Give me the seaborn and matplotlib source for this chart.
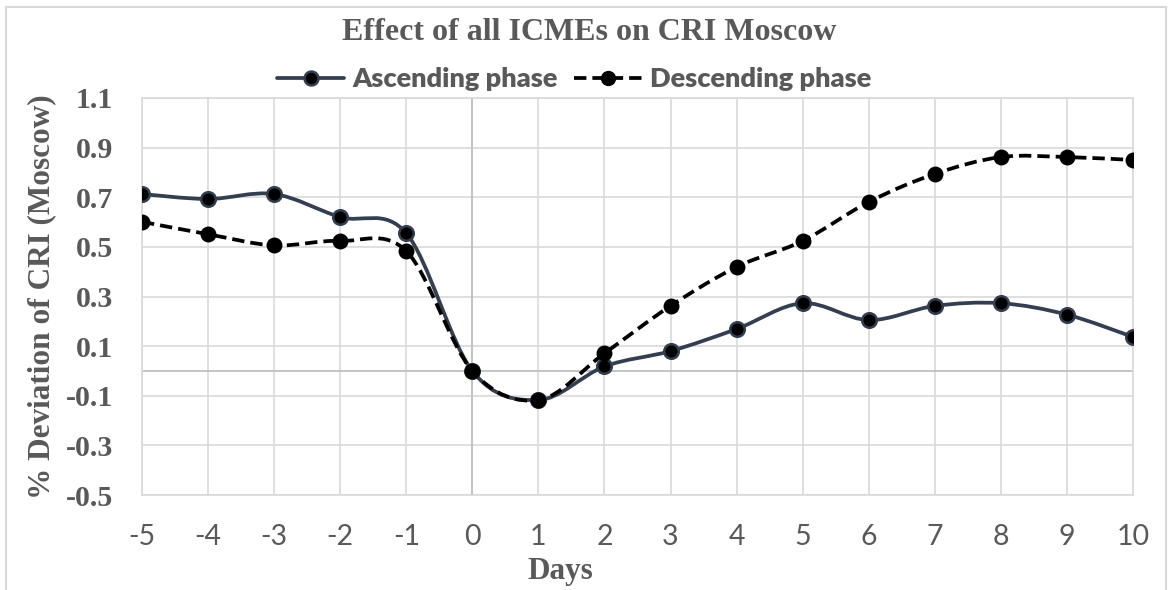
import numpy as np
import pandas as pd
import matplotlib
matplotlib.use("Agg")
import matplotlib.pyplot as plt
import seaborn as sns
from matplotlib.path import Path
from matplotlib.patches import PathPatch, Rectangle
from matplotlib.lines import Line2D

# ---- data -------------------------------------------------------------
days = [-5, -4, -3, -2, -1, 0, 1, 2, 3, 4, 5, 6, 7, 8, 9, 10]
ascending = [0.713, 0.693, 0.713, 0.620, 0.555, 0.000, -0.117, 0.018,
             0.080, 0.169, 0.273, 0.205, 0.262, 0.273, 0.227, 0.137]
descending = [0.601, 0.551, 0.506, 0.524, 0.483, 0.000, -0.117, 0.071,
              0.262, 0.419, 0.524, 0.681, 0.794, 0.862, 0.862, 0.850]
series_names = ["Ascending phase", "Descending phase"]
x_tick_labels = ["-5", "-4", "-3", "-2", "-1", "0", "1", "2", "3", "4",
                 "5", "6", "7", "8", "9", "10"]
y_ticks = [-0.5, -0.3, -0.1, 0.1, 0.3, 0.5, 0.7, 0.9, 1.1]
y_tick_labels = ["-0.5", "-0.3", "-0.1", "0.1", "0.3", "0.5", "0.7", "0.9", "1.1"]
title = "Effect of all ICMEs on CRI Moscow"
x_label = "Days"
y_label = "% Deviation of CRI (Moscow)"

# ---- style ------------------------------------------------------------
sns.set_theme(style="white")
plt.rcParams["axes.unicode_minus"] = False
SERIF = "Liberation Serif"
SANS = "Lato"
TEXT = "#595959"
GRID = "#D9D9D9"
ASC_COLOR = "#333F50"
DESC_COLOR = "#000000"
LW = 2.7

fig = plt.figure(figsize=(11.68, 5.90), dpi=100)
ax = fig.add_axes([142 / 1168, 1 - 495 / 590, (1133 - 142) / 1168, (495 - 98) / 590])

# chart frame
fig.patches.append(Rectangle((6 / 1168, -0.1), (1166 - 6) / 1168, 1 - 7 / 590 + 0.1,
                             transform=fig.transFigure, fill=False,
                             edgecolor=GRID, linewidth=1.5, clip_on=False))


def smooth_path(xs, ys):
    """Cubic Bezier path through the points (Catmull-Rom style handles)."""
    pts = np.column_stack([xs, ys]).astype(float)
    n = len(pts)
    verts = [pts[0]]
    codes = [Path.MOVETO]
    for i in range(n - 1):
        p0 = pts[max(i - 1, 0)]
        p1 = pts[i]
        p2 = pts[i + 1]
        p3 = pts[min(i + 2, n - 1)]
        verts += [p1 + (p2 - p0) / 6.0, p2 - (p3 - p1) / 6.0, p2]
        codes += [Path.CURVE4] * 3
    return Path(verts, codes)


df = pd.DataFrame({
    "day": days * 2,
    "value": ascending + descending,
    "phase": [series_names[0]] * len(days) + [series_names[1]] * len(days),
})

dash = (0, (3.3, 1.6))

# smoothed connecting lines
ax.add_patch(PathPatch(smooth_path(days, ascending), facecolor="none",
                       edgecolor=ASC_COLOR, linewidth=LW, zorder=3,
                       capstyle="round", joinstyle="round"))
ax.add_patch(PathPatch(smooth_path(days, descending), facecolor="none",
                       edgecolor=DESC_COLOR, linewidth=LW, linestyle=dash,
                       zorder=3, capstyle="butt"))

# point markers
sns.scatterplot(data=df[df["phase"] == series_names[0]], x="day", y="value",
                color="black", edgecolor=ASC_COLOR, linewidth=1.8, s=110,
                ax=ax, zorder=4, legend=False)
sns.scatterplot(data=df[df["phase"] == series_names[1]], x="day", y="value",
                color="black", edgecolor="black", linewidth=1.2, s=105,
                ax=ax, zorder=4, legend=False)

# axes
ax.set_xlim(-5, 10)
ax.set_ylim(-0.5, 1.1)
ax.set_xticks(days)
ax.set_xticklabels(x_tick_labels, fontfamily=SANS, fontsize=20.5, color=TEXT)
ax.set_yticks(y_ticks)
ax.set_yticklabels(y_tick_labels, fontfamily=SERIF, fontweight="bold",
                   fontsize=21.5, color=TEXT)
ax.tick_params(axis="x", length=0, pad=21)
ax.tick_params(axis="y", length=0, pad=21)
ax.grid(True, color=GRID, linewidth=1.2, zorder=0)
ax.set_axisbelow(True)
ax.axhline(0, color="#BFBFBF", linewidth=1.3, zorder=1)
ax.axvline(0, color="#BFBFBF", linewidth=1.3, zorder=1)
for sp in ax.spines.values():
    sp.set_color(GRID)
    sp.set_linewidth(1.2)

ax.set_xlabel(x_label, fontfamily=SERIF, fontweight="bold", fontsize=22.5, color=TEXT)
ax.xaxis.label.set_va("center")
ax.xaxis.set_label_coords((560 - 142) / 991, (495 - 572) / 397)
ax.set_ylabel(y_label, fontfamily=SERIF, fontweight="bold", fontsize=22.5, color=TEXT)
ax.yaxis.label.set_va("center")
ax.yaxis.set_label_coords((42 - 142) / 991, 0.5)

fig.text(589 / 1168, 1 - 33 / 590, title, ha="center", va="center",
         fontfamily=SERIF, fontweight="bold", fontsize=23, color=TEXT)

handles = [
    Line2D([], [], color=ASC_COLOR, linewidth=LW, marker="o", markersize=10,
           markerfacecolor="black", markeredgecolor=ASC_COLOR, markeredgewidth=1.8),
    Line2D([], [], color=DESC_COLOR, linewidth=LW, linestyle=dash, marker="o",
           markersize=10, markerfacecolor="black", markeredgecolor="black"),
]
leg = fig.legend(handles, series_names, loc="center", ncol=2,
                 bbox_to_anchor=(574 / 1168, 1 - 79 / 590), frameon=False,
                 handlelength=2.5, handletextpad=0.3, columnspacing=0.6,
                 prop={"family": SANS, "weight": "heavy", "size": 19.5})
for t in leg.get_texts():
    t.set_color(TEXT)

fig.savefig("out.png", dpi=100)
